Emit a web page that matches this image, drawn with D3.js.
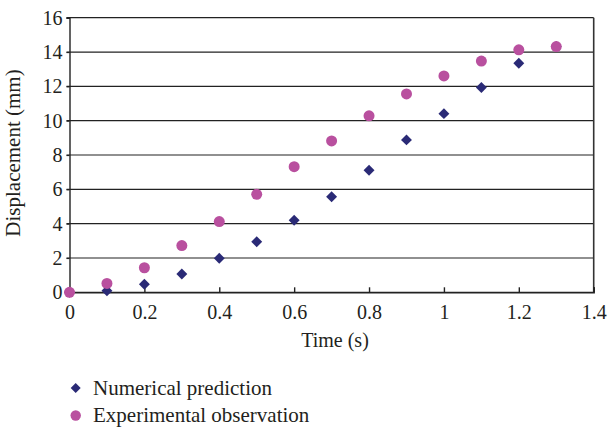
<!DOCTYPE html>
<html>
<head>
<meta charset="utf-8">
<script src="https://cdn.jsdelivr.net/npm/d3@7"></script>
<style>
  html, body { margin: 0; padding: 0; background: #fff; }
  svg text { font-family: "Liberation Serif", "Times New Roman", serif; fill: #231f20; }
</style>
</head>
<body>
<svg id="chart" width="608" height="429"></svg>
<script>
const times = [0, 0.1, 0.2, 0.3, 0.4, 0.5, 0.6, 0.7, 0.8, 0.9, 1.0, 1.1, 1.2, 1.3];
const numerical = [0, 0.09, 0.47, 1.07, 1.98, 2.95, 4.2, 5.57, 7.11, 8.88, 10.41, 11.93, 13.35, 14.32];
const experimental = [0, 0.52, 1.43, 2.72, 4.12, 5.71, 7.32, 8.82, 10.28, 11.56, 12.61, 13.47, 14.13, 14.32];
const xTicks = [0, 0.2, 0.4, 0.6, 0.8, 1, 1.2, 1.4];
const yTicks = [0, 2, 4, 6, 8, 10, 12, 14, 16];
const seriesNames = ["Numerical prediction", "Experimental observation"];
const seriesColors = ["#2a2a76", "#b9509f"];

const svg = d3.select("#chart");
const mLeft = 69.5, mRight = 593.7, mTop = 17.7, mBottom = 292.3;
const x = d3.scaleLinear().domain([0, 1.4]).range([mLeft, mRight]);
const y = d3.scaleLinear().domain([0, 16]).range([mBottom, mTop]);

// gridlines
svg.append("g").selectAll("line").data(yTicks).join("line")
  .attr("x1", mLeft - 3).attr("x2", mRight)
  .attr("y1", d => y(d)).attr("y2", d => y(d))
  .attr("stroke", "#222").attr("stroke-width", 1.2);

// right border
svg.append("line").attr("x1", mRight).attr("x2", mRight).attr("y1", mTop).attr("y2", mBottom)
  .attr("stroke", "#333").attr("stroke-width", 1.6);

// y axis
const yAxis = d3.axisLeft(y).tickValues(yTicks).tickSize(3).tickPadding(4).tickFormat(d3.format("d"));
const gy = svg.append("g").attr("transform", `translate(${mLeft},0)`).call(yAxis);
gy.select(".domain").attr("stroke", "#222").attr("stroke-width", 1.4);
gy.selectAll(".tick line").attr("stroke", "#222").attr("stroke-width", 1.2);
gy.selectAll(".tick text").attr("font-size", 20).attr("font-family", "Liberation Serif").attr("fill", "#231f20");

// x axis with inside ticks
const xAxis = d3.axisBottom(x).tickValues(xTicks).tickSize(-5).tickPadding(13).tickFormat(d => String(+d.toFixed(1)));
const gx = svg.append("g").attr("transform", `translate(0,${mBottom})`).call(xAxis);
gx.select(".domain").attr("stroke", "#222").attr("stroke-width", 1.4);
gx.selectAll(".tick line").attr("stroke", "#222").attr("stroke-width", 1.4);
gx.selectAll(".tick text").attr("font-size", 20).attr("font-family", "Liberation Serif").attr("fill", "#231f20");

// axis titles
svg.append("text").attr("x", 335).attr("y", 347).attr("text-anchor", "middle")
  .attr("font-size", 20).text("Time (s)");
svg.append("text").attr("transform", "translate(20,153) rotate(-90)").attr("text-anchor", "middle")
  .attr("font-size", 21).text("Displacement (mm)");

// data
const diamond = d3.symbol().type(d3.symbolDiamond2).size(76);
const numData = times.map((t, i) => ({t, v: numerical[i]}));
const expData = times.map((t, i) => ({t, v: experimental[i]}));

svg.append("g").selectAll("path").data(numData).join("path")
  .attr("d", diamond)
  .attr("transform", d => `translate(${x(d.t)},${y(d.v)})`)
  .attr("fill", seriesColors[0]);

svg.append("g").selectAll("circle").data(expData).join("circle")
  .attr("cx", d => x(d.t)).attr("cy", d => y(d.v)).attr("r", 5.5)
  .attr("fill", seriesColors[1]);

// legend
const lg = svg.append("g");
const legendY = [388, 415.5];
lg.append("path").attr("d", d3.symbol().type(d3.symbolDiamond2).size(64)())
  .attr("transform", `translate(75.7,${legendY[0]})`).attr("fill", seriesColors[0]);
lg.append("circle").attr("cx", 75.7).attr("cy", legendY[1]).attr("r", 5.2).attr("fill", seriesColors[1]);
seriesNames.forEach((n, i) => {
  lg.append("text").attr("x", 93).attr("y", legendY[i] + 6.5).attr("font-size", 21).text(n);
});
</script>
</body>
</html>
